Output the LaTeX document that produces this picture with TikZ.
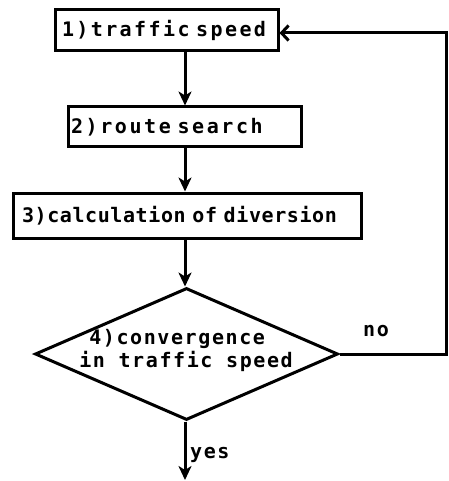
\documentclass[tikz,border=0pt]{standalone}
\usepackage{fontspec}
\newfontfamily\flowfont{DejaVu Sans Mono Bold}
\usetikzlibrary{arrows.meta,shapes.geometric}
\newcommand{\flowtext}[1]{\fontsize{20}{23}\flowfont\addfontfeature{LetterSpace=#1}\selectfont}
\tikzset{
  stepbox/.style={draw, line width=3pt, rectangle, align=left, inner ysep=0pt},
  decision/.style={draw, line width=3pt, diamond, inner sep=0pt, minimum width=303pt, minimum height=132pt},
  flow/.style={line width=3pt, -{Stealth[length=14pt,width=13pt,inset=4pt]}},
  back/.style={line width=3pt, -{Straight Barb[length=7pt,width=15pt,line width=3pt]}},
  lbl/.style={inner sep=0pt}
}
\begin{document}
\begin{tikzpicture}[x=1pt,y=-1pt]
  \useasboundingbox (0,0) rectangle (448,481);
  \node[stepbox, minimum width=223pt, minimum height=41pt, text width=209pt, inner xsep=7pt,
    font=\flowtext{12}] (s1) at (166.5,30.5) {1)traffic speed};
  \node[stepbox, minimum width=233pt, minimum height=40pt, text width=227pt, inner xsep=3pt,
    font=\flowtext{13}] (s2) at (184.5,127) {2)route search};
  \node[stepbox, minimum width=348pt, minimum height=45pt, text width=330pt, inner xsep=9pt,
    font=\flowtext{3}] (s3) at (187,215.5) {3)calculation of diversion};
  \node[decision] (d4) at (186.5,354) {};
  \node[lbl, align=left, font=\flowtext{8}] (t4) at (186,350)
    {\hspace*{10pt}4)convergence\\in traffic speed};
  \node[lbl, font=\flowtext{8}] (no) at (376,331) {no};
  \node[lbl, anchor=west, font=\flowtext{8}] (yes) at (190,455) {yes};
  \coordinate (out) at (185,480);
  \coordinate (c1) at (446,354);
  \coordinate (c2) at (446,33);

  \draw[flow] (s1.south -| 185,0) -- (s2.north -| 185,0);
  \draw[flow] (s2.south -| 185,0) -- (s3.north -| 185,0);
  \draw[flow] (s3.south -| 185,0) -- (d4.north -| 185,0);
  \draw[flow] (d4.south -| 185,0) -- (out);
  \draw[back] (d4.east) -- (c1) -- (c2) -- (s1.east |- c2);
\end{tikzpicture}
\end{document}
